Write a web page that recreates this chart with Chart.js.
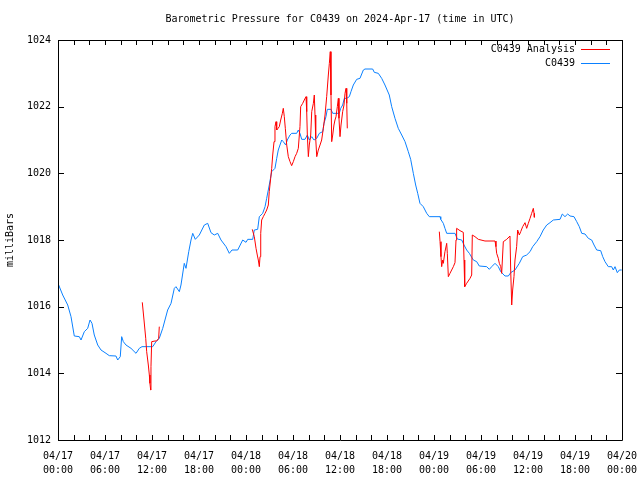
<!DOCTYPE html>
<html>
<head>
<meta charset="utf-8">
<script src="https://cdn.jsdelivr.net/npm/chart.js@4/dist/chart.umd.min.js"></script>
<style>
  html, body { margin: 0; padding: 0; background: #ffffff; }
  #wrap { width: 640px; height: 480px; }
</style>
</head>
<body>
<div id="wrap"><canvas id="c" width="640" height="480"></canvas></div>
<script>
// ---- data (hours since 2024-04-17 00:00 UTC, pressure in mb) ----
const blueHours = [0,0.60,1.24,1.66,1.95,2.08,2.72,2.94,3.36,3.79,4.09,4.34,4.63,5.07,5.49,6.13,6.55,7.40,7.62,7.95,8.13,8.34,8.68,9.32,9.96,10.38,10.72,12.09,12.51,12.93,13.37,14.00,14.43,14.85,15.06,15.49,15.70,16.12,16.34,16.69,16.98,17.20,17.53,18.04,18.68,19.11,19.53,19.95,20.39,20.81,21.45,21.87,22.21,22.94,23.58,24.00,24.22,24.86,25.06,25.49,25.70,26.13,26.43,26.64,26.97,27.28,27.70,27.92,28.12,28.56,28.76,29.07,29.27,29.62,29.83,30.47,30.68,30.89,31.11,31.53,31.83,32.08,32.39,32.68,33.03,33.36,33.79,33.96,34.21,34.38,34.85,35.07,35.91,36.09,36.34,36.55,36.86,37.19,37.40,37.70,38.13,38.55,38.98,39.19,40.17,40.38,40.89,41.32,41.74,42.29,42.60,43.02,43.44,43.88,44.30,44.72,45.02,45.36,45.66,45.92,46.21,46.63,47.07,47.40,48.77,48.86,49.19,49.40,49.62,50.68,50.98,51.54,51.83,52.17,52.51,53.02,53.45,53.78,54.73,55.06,55.37,55.79,56.21,56.52,57.06,57.49,57.79,58.34,58.89,59.32,59.83,60.26,60.60,61.11,61.53,61.95,62.39,62.81,63.23,64.09,64.38,64.72,65.07,65.36,65.87,66.22,66.55,66.86,67.28,67.70,68.13,68.43,68.77,69.28,69.54,69.83,70.25,70.68,70.89,71.11,71.40,71.66,71.96];
const blueValues = [1016.70,1016.35,1016.05,1015.7,1015.3,1015.12,1015.1,1015.0,1015.25,1015.35,1015.6,1015.5,1015.15,1014.85,1014.7,1014.6,1014.53,1014.52,1014.4,1014.5,1015.1,1014.95,1014.85,1014.75,1014.6,1014.75,1014.8,1014.8,1014.95,1015.05,1015.35,1015.9,1016.1,1016.55,1016.6,1016.45,1016.65,1017.3,1017.15,1017.65,1018.0,1018.2,1018.02,1018.15,1018.45,1018.5,1018.22,1018.15,1018.2,1018.0,1017.8,1017.6,1017.7,1017.7,1018.0,1017.93,1018.02,1018.02,1018.3,1018.32,1018.7,1018.8,1019.0,1019.25,1019.65,1020.05,1020.15,1020.45,1020.7,1021.0,1020.95,1020.85,1021.0,1021.15,1021.2,1021.2,1021.3,1021.2,1021.02,1021.02,1021.15,1021.0,1021.1,1021.0,1021.05,1021.2,1021.25,1021.5,1021.7,1021.92,1021.92,1021.8,1021.8,1021.95,1022.05,1022.25,1022.25,1022.3,1022.45,1022.65,1022.82,1022.85,1023.1,1023.13,1023.13,1023.03,1023.0,1022.85,1022.65,1022.35,1022.0,1021.65,1021.35,1021.15,1020.95,1020.65,1020.42,1020.0,1019.65,1019.4,1019.1,1019.0,1018.8,1018.7,1018.7,1018.62,1018.5,1018.35,1018.2,1018.2,1018.03,1018.0,1017.85,1017.7,1017.6,1017.4,1017.35,1017.22,1017.2,1017.12,1017.2,1017.3,1017.2,1017.05,1016.92,1016.92,1017.02,1017.1,1017.3,1017.5,1017.55,1017.65,1017.8,1017.95,1018.1,1018.3,1018.45,1018.52,1018.6,1018.62,1018.78,1018.7,1018.78,1018.72,1018.7,1018.55,1018.4,1018.2,1018.18,1018.05,1018.0,1017.85,1017.7,1017.68,1017.5,1017.35,1017.2,1017.2,1017.1,1017.2,1017.02,1017.1,1017.1];

const redHours = [10.76,10.98,11.20,11.32,11.53,11.66,11.74,11.83,11.87,11.96,12.38,12.60,12.85,12.93,
  18.0,
  24.80,25.06,25.28,25.44,25.57,25.70,25.79,25.88,26.00,26.21,26.43,26.64,26.85,26.97,27.15,27.28,27.41,27.58,27.70,27.83,27.92,28.09,28.25,28.43,28.64,28.76,28.89,29.02,29.20,29.40,29.62,29.83,30.04,30.26,30.47,30.68,30.89,30.98,31.24,31.44,31.66,31.75,31.83,31.96,32.08,32.26,32.39,32.60,32.72,32.81,32.90,33.03,33.23,33.45,33.66,33.87,34.09,34.30,34.51,34.64,34.76,34.85,34.94,35.07,35.23,35.36,35.49,35.66,35.79,35.87,36.00,36.13,36.34,36.51,36.64,36.77,36.86,36.93,
  42.0,
  48.68,48.77,48.89,48.98,49.11,49.19,49.40,49.62,49.70,49.83,50.04,50.47,50.68,50.81,50.89,51.32,51.74,51.83,51.92,52.17,52.60,52.81,52.89,53.23,53.66,54.51,55.79,55.91,56.00,56.21,56.34,56.52,56.64,56.85,57.28,57.70,57.79,57.92,58.04,58.21,58.34,58.55,58.68,58.89,59.07,59.32,59.62,59.83,60.04,60.26,60.47,60.68,60.77,60.81];
const redValues = [1016.13,1015.6,1015.05,1014.65,1014.25,1013.95,1013.7,1013.5,1014.2,1014.95,1014.97,1014.97,1015.05,1015.4,
  null,
  1018.32,1018.1,1017.75,1017.55,1017.4,1017.2,1017.5,1018.2,1018.6,1018.7,1018.8,1018.9,1019.05,1019.45,1019.85,1020.15,1020.55,1020.95,1021.4,1021.55,1021.3,1021.35,1021.4,1021.6,1021.8,1021.95,1021.7,1021.35,1020.85,1020.5,1020.35,1020.23,1020.35,1020.5,1020.6,1020.75,1021.4,1022.0,1022.1,1022.2,1022.3,1021.85,1021.15,1020.5,1020.85,1021.15,1021.85,1022.1,1022.35,1021.75,1021.05,1020.5,1020.7,1020.85,1021.0,1021.35,1021.75,1022.3,1022.95,1023.3,1023.65,1022.35,1020.95,1021.15,1021.45,1021.6,1021.7,1022.0,1022.25,1021.65,1021.1,1021.45,1021.85,1022.05,1022.4,1022.55,1022.1,1021.35,
  null,
  1018.25,1017.95,1017.5,1017.2,1017.4,1017.3,1017.65,1017.9,1017.6,1016.9,1017.0,1017.2,1017.32,1018.0,1018.35,1018.28,1018.23,1017.4,1016.6,1016.7,1016.85,1016.95,1018.15,1018.1,1018.02,1017.97,1017.97,1017.8,1017.6,1017.45,1017.3,1017.2,1017.0,1017.95,1018.02,1018.12,1017.1,1016.05,1016.5,1016.9,1017.4,1017.8,1018.3,1018.15,1018.25,1018.4,1018.52,1018.35,1018.5,1018.65,1018.8,1018.95,1018.8,1018.68];

const xTickDates = ['04/17','04/17','04/17','04/17','04/18','04/18','04/18','04/18','04/19','04/19','04/19','04/19','04/20'];
const xTickTimes = ['00:00','06:00','12:00','18:00','00:00','06:00','12:00','18:00','00:00','06:00','12:00','18:00','00:00'];
const seriesNames = ['C0439 Analysis', 'C0439'];
const titleText = 'Barometric Pressure for C0439 on 2024-Apr-17 (time in UTC)';
const yAxisTitle = 'milliBars';

const FONT = 'DejaVu Sans Mono';
const RED = '#ff0000';
const BLUE = '#0a80ff';

function pairs(xs, ys) { return xs.map((x, i) => ({ x: x, y: ys[i] })); }

const frameTicks = {
  id: 'frameTicks',
  afterDatasetsDraw(chart) {
    const ctx = chart.ctx, a = chart.chartArea;
    const xs = chart.scales.x, ys = chart.scales.y;
    ctx.save();
    ctx.strokeStyle = '#000';
    ctx.lineWidth = 1;
    ctx.beginPath();
    ctx.rect(Math.round(a.left) + 0.5, Math.round(a.top) + 0.5, Math.round(a.right - a.left), Math.round(a.bottom - a.top));
    ctx.stroke();
    ctx.beginPath();
    xs.ticks.forEach(t => {
      const px = Math.round(xs.getPixelForValue(t.value)) + 0.5;
      ctx.moveTo(px, a.bottom); ctx.lineTo(px, a.bottom - 5);
      ctx.moveTo(px, a.top); ctx.lineTo(px, a.top + 5);
    });
    ys.ticks.forEach(t => {
      const py = Math.round(ys.getPixelForValue(t.value)) + 0.5;
      ctx.moveTo(a.left, py); ctx.lineTo(a.left + 6, py);
      ctx.moveTo(a.right, py); ctx.lineTo(a.right - 6, py);
    });
    ctx.stroke();
    // legend
    ctx.font = '10px "' + FONT + '"';
    ctx.fillStyle = '#000';
    ctx.textAlign = 'right';
    ctx.textBaseline = 'middle';
    const cols = [RED, BLUE];
    seriesNames.forEach((n, i) => {
      const y = a.top + 9 + i * 14;
      ctx.fillText(n, 575, y);
      ctx.strokeStyle = cols[i];
      ctx.beginPath();
      ctx.moveTo(581, Math.round(y) + 0.5); ctx.lineTo(610, Math.round(y) + 0.5);
      ctx.stroke();
    });
    ctx.restore();
  }
};

new Chart(document.getElementById('c'), {
  type: 'scatter',
  data: {
    datasets: [
      { label: seriesNames[0], data: pairs(redHours, redValues), showLine: true, spanGaps: false,
        borderColor: RED, backgroundColor: RED, borderWidth: 1, pointRadius: 0, tension: 0 },
      { label: seriesNames[1], data: pairs(blueHours, blueValues), showLine: true,
        borderColor: BLUE, backgroundColor: BLUE, borderWidth: 1, pointRadius: 0, tension: 0 }
    ]
  },
  options: {
    responsive: false,
    animation: false,
    layout: { padding: { left: 0, right: 18, top: 0, bottom: 0 } },
    plugins: {
      legend: { display: false },
      tooltip: { enabled: false },
      title: {
        display: true, text: titleText, color: '#000', fullSize: false,
        font: { family: FONT, size: 10, weight: 'normal' },
        padding: { top: 13, bottom: 15 }
      }
    },
    scales: {
      x: {
        type: 'linear', min: 0, max: 72,
        grid: { display: false, drawTicks: false },
        border: { display: false },
        afterFit(s) { s.height = 40; s.paddingLeft = 0; s.paddingRight = 0; },
        ticks: {
          stepSize: 2, autoSkip: false, maxRotation: 0, padding: 9, color: '#000',
          font: { family: FONT, size: 10, lineHeight: 1.4 },
          callback(v) {
            if (Math.abs(v % 6) > 1e-9) return '';
            const i = Math.round(v / 6);
            return [xTickDates[i], xTickTimes[i]];
          }
        }
      },
      y: {
        type: 'linear', min: 1012, max: 1024,
        grid: { display: false, drawTicks: false },
        border: { display: false },
        afterFit(s) { s.width = 58; s.paddingTop = 0; s.paddingBottom = 0; },
        title: { display: true, text: yAxisTitle, color: '#000',
          font: { family: FONT, size: 10 }, padding: { top: 4, bottom: 0 } },
        ticks: {
          stepSize: 2, padding: 7, color: '#000',
          font: { family: FONT, size: 10 },
          callback(v) { return String(v); }
        }
      }
    }
  },
  plugins: [frameTicks]
});
</script>
</body>
</html>
